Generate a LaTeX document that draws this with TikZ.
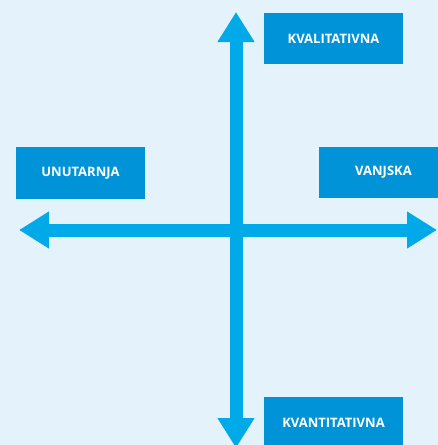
\documentclass[tikz,border=0pt]{standalone}
\usepackage{fontspec}
\setmainfont{Open Sans}
\usepackage{xcolor}
\definecolor{bgblue}{RGB}{228, 242, 251}
\definecolor{boxblue}{RGB}{0, 147, 215}
\definecolor{axisblue}{RGB}{0, 170, 232}
\usetikzlibrary{
    arrows.meta,
    positioning
}
\tikzstyle{label} = [
    rectangle,
    minimum width=139pt,
    minimum height=51pt,
    text centered,
    text=white,
    font=\bfseries\fontsize{13}{15}\selectfont,
    fill=boxblue,
    inner sep=0pt
]
\tikzstyle{axis} = [
    draw=axisblue,
    line width=13pt,
    {Triangle[length=30pt, width=35pt]}-{Triangle[length=30pt, width=35pt]}
]

\begin{document}
\begin{tikzpicture}[x=1pt, y=-1pt]

\fill[bgblue] (0,0) rectangle (438,445);
\useasboundingbox (0,0) rectangle (438,445);

\coordinate (top) at (236,12);
\coordinate (bottom) at (236,448);
\coordinate (left) at (19,230);
\coordinate (right) at (437,230);

\draw [axis] (bottom) -- (top);
\draw [axis] (left) -- (right);

\node (kval) [label] at (333.5,38.5) {KVALITATIVNA};
\node (unut) [label, minimum width=129pt, minimum height=52pt] at (80.5,173) {UNUTARNJA};
\node (vanj) [label, minimum width=129pt] at (383.5,172.5) {VANJSKA};
\node (kvan) [label] at (333.5,422.5) {KVANTITATIVNA};

\end{tikzpicture}
\end{document}
